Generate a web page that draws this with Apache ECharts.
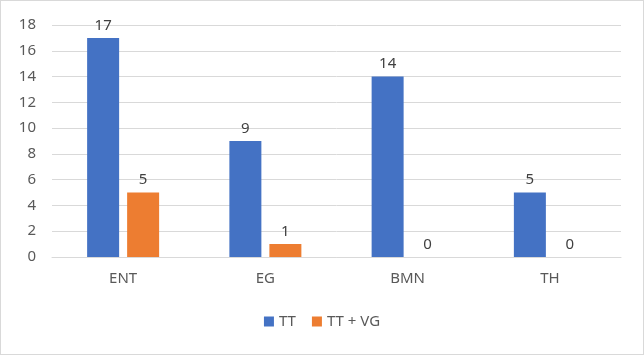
<!DOCTYPE html>
<html><head><meta charset="utf-8">
<script src="https://cdn.jsdelivr.net/npm/echarts@6/dist/echarts.min.js"></script>
<style>html,body{margin:0;padding:0;background:#fff}#c{position:absolute;left:0;top:0;width:642px;height:353px;border:1px solid #d9d9d9}</style>
</head><body><div id="c"></div>
<script>
const categories = ['ENT', 'EG', 'BMN', 'TH'];
const tt = [17, 9, 14, 5];
const ttvg = [5, 1, 0, 0];
const yTicks = {min: 0, max: 18, interval: 2};
const chart = echarts.init(document.getElementById('c'));
const font = '"Noto Sans", "Open Sans", sans-serif';
const lbl = {show: true, position: 'top', color: '#404040', fontSize: 15, fontFamily: font, distance: 5};
chart.setOption({
  animation: false,
  textStyle: {fontFamily: font},
  grid: {left: 51, right: 22, top: 24, bottom: 97},
  legend: {bottom: 20, left: 'center', itemWidth: 10, itemHeight: 10, itemGap: 16, icon: 'rect',
    textStyle: {color: '#595959', fontSize: 15, fontFamily: font}},
  xAxis: {type: 'category', data: categories,
    axisLine: {lineStyle: {color: '#d9d9d9'}}, axisTick: {show: false},
    axisLabel: {color: '#595959', fontSize: 15, fontFamily: font, margin: 14}},
  yAxis: {type: 'value', min: yTicks.min, max: yTicks.max, interval: yTicks.interval,
    axisLine: {show: false}, axisTick: {show: false},
    axisLabel: {color: '#595959', fontSize: 15, fontFamily: font, margin: 16},
    splitLine: {lineStyle: {color: '#d9d9d9', width: 1}}},
  series: [
    {name: 'TT', type: 'bar', data: tt, barWidth: 32, barGap: '25%', itemStyle: {color: '#4472C4'}, label: lbl},
    {name: 'TT + VG', type: 'bar', data: ttvg, barWidth: 32, itemStyle: {color: '#ED7D31'}, label: lbl}
  ]
});
</script></body></html>
